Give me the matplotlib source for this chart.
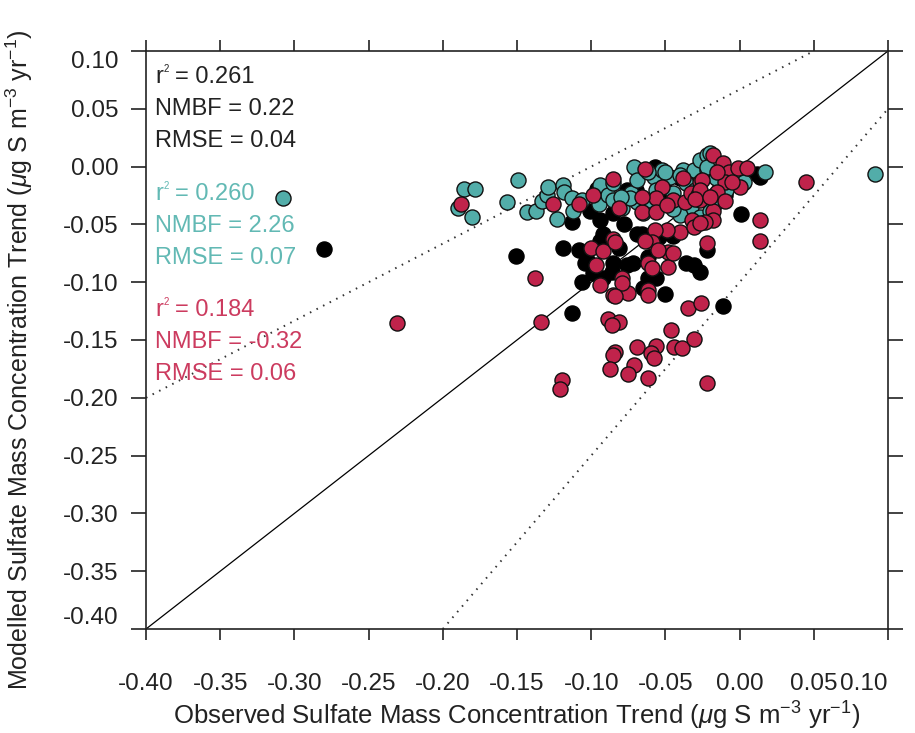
import matplotlib
matplotlib.use("Agg")
import matplotlib.pyplot as plt
import matplotlib.transforms as mtransforms
import numpy as np

plt.rcParams['font.family'] = ['Liberation Sans', 'DejaVu Sans']
plt.rcParams['mathtext.fontset'] = 'custom'
plt.rcParams['mathtext.rm'] = 'Liberation Sans'
plt.rcParams['mathtext.it'] = 'Liberation Sans:italic'
plt.rcParams['mathtext.bf'] = 'Liberation Sans:bold'
plt.rcParams['axes.unicode_minus'] = False

# ---------------- data ----------------
black_x = [-0.280, -0.151, -0.113, -0.119, -0.011, 0.001, 0.014, 0.012, -0.050, -0.108,
           -0.104, -0.106, -0.094, -0.092, -0.085, -0.086, -0.092, -0.099, -0.076, -0.072,
           -0.066, -0.062, -0.062, -0.056, -0.065, -0.036, -0.031, -0.027, -0.022, -0.113,
           -0.103, -0.094, -0.101, -0.096, -0.076, -0.069, -0.081, -0.057, -0.054, -0.060,
           -0.040, -0.020, -0.050, -0.060, -0.030, -0.070, -0.015, -0.035, -0.025, -0.045,
           -0.010, -0.085, -0.078]
black_y = [-0.071, -0.077, -0.127, -0.070, -0.121, -0.041, -0.009, -0.006, -0.110, -0.072,
           -0.083, -0.100, -0.064, -0.058, -0.083, -0.091, -0.096, -0.092, -0.085, -0.083,
           -0.058, -0.078, -0.096, -0.096, -0.105, -0.083, -0.085, -0.091, -0.072, -0.048,
           -0.081, -0.046, -0.038, -0.019, -0.020, -0.058, -0.070, 0.000, -0.061, -0.005,
           -0.010, -0.030, -0.020, -0.035, -0.050, -0.020, -0.005, -0.015, -0.045, -0.060,
           -0.025, -0.040, -0.050]

teal_x = [-0.308, 0.091, -0.186, -0.178, -0.190, -0.180, -0.149, -0.157, -0.143, -0.137,
          -0.133, -0.130, -0.129, -0.119, -0.118, -0.113, -0.123, -0.112, -0.106, -0.094,
          -0.095, -0.089, -0.085, -0.079, -0.071, -0.073, -0.069, -0.085, -0.069, -0.062,
          -0.058, -0.052, -0.047, -0.045, -0.038, -0.031, -0.027, -0.022, -0.036, -0.040,
          -0.033, -0.027, -0.018, -0.013, -0.004, 0.002, 0.017, -0.074, -0.080, -0.062,
          -0.050, -0.040, -0.022, -0.016, -0.009, -0.040, -0.045, -0.020, -0.016, -0.020,
          -0.022, 0.003, -0.056, -0.030, -0.065]
teal_y = [-0.027, -0.006, -0.019, -0.019, -0.036, -0.044, -0.012, -0.031, -0.039, -0.038,
          -0.030, -0.025, -0.018, -0.016, -0.022, -0.027, -0.045, -0.038, -0.029, -0.016,
          -0.032, -0.025, -0.029, -0.036, 0.000, -0.023, -0.031, -0.014, -0.012, -0.029,
          -0.009, -0.003, -0.009, -0.023, -0.003, -0.003, 0.006, 0.010, -0.014, -0.039,
          -0.035, -0.044, -0.035, -0.018, -0.006, -0.014, -0.005, -0.027, -0.026, -0.005,
          -0.005, -0.007, -0.003, -0.010, -0.020, -0.042, -0.037, -0.038, -0.031, 0.012,
          0.000, -0.013, -0.020, -0.020, -0.040]

red_x = [-0.231, -0.188, -0.138, -0.134, -0.126, -0.108, -0.099, -0.085, -0.081, -0.100,
         -0.092, -0.097, -0.085, -0.094, -0.079, -0.085, -0.075, -0.064, -0.018, -0.011,
         -0.007, -0.001, 0.005, -0.010, 0.000, -0.027, -0.015, -0.038, -0.052, -0.056,
         -0.045, -0.037, -0.033, -0.028, -0.027, -0.018, -0.018, -0.023, -0.032, -0.040,
         -0.031, -0.027, -0.049, -0.057, -0.066, -0.056, -0.049, -0.025, -0.027, -0.066,
         0.014, 0.014, -0.022, -0.059, -0.048, -0.055, -0.062, -0.059, -0.048, -0.045,
         -0.062, -0.062, -0.084, -0.079, -0.084, 0.045, -0.015, -0.005, -0.030, -0.020,
         -0.010, -0.064, -0.035, -0.026, -0.089, -0.081, -0.086, -0.046, -0.084, -0.085,
         -0.069, -0.056, -0.060, -0.058, -0.044, -0.039, -0.031, -0.071, -0.075, -0.087,
         -0.062, -0.022, -0.120, -0.121]
red_y = [-0.135, -0.032, -0.096, -0.134, -0.032, -0.032, -0.025, -0.011, -0.036, -0.070,
         -0.073, -0.085, -0.063, -0.102, -0.096, -0.111, -0.109, -0.002, 0.010, 0.003,
         -0.005, -0.001, -0.001, -0.013, -0.018, -0.013, -0.022, -0.010, -0.018, -0.027,
         -0.029, -0.031, -0.023, -0.025, -0.029, -0.038, -0.046, -0.048, -0.046, -0.057,
         -0.052, -0.049, -0.055, -0.055, -0.039, -0.039, -0.033, -0.012, -0.020, -0.026,
         -0.046, -0.064, -0.066, -0.065, -0.074, -0.072, -0.083, -0.088, -0.087, -0.075,
         -0.107, -0.111, -0.065, -0.101, -0.112, -0.013, -0.005, -0.013, -0.028, -0.026,
         -0.030, -0.064, -0.122, -0.118, -0.132, -0.134, -0.137, -0.141, -0.160, -0.163,
         -0.156, -0.155, -0.161, -0.166, -0.156, -0.157, -0.149, -0.172, -0.179, -0.175,
         -0.183, -0.187, -0.185, -0.192]

# reference lines (1:1 and factor lines)
one_x = [-0.40, 0.10]
one_y = [-0.40, 0.10]
upper_x = [-0.40, 0.05]
upper_y = [-0.20, 0.10]
lower_x = [-0.20, 0.10]
lower_y = [-0.40, 0.05]

ticks = [-0.40, -0.35, -0.30, -0.25, -0.20, -0.15, -0.10, -0.05, 0.00, 0.05, 0.10]
tick_labels = ["%.2f" % t for t in ticks]

# statistics: (r2, NMBF, RMSE)
stats_black = ["0.261", "0.22", "0.04"]
stats_teal = ["0.260", "2.26", "0.07"]
stats_red = ["0.184", "-0.32", "0.06"]

# ---------------- plot ----------------
teal = '#52ADA9'
red = '#C0234B'
teal_txt = '#62B9B4'
red_txt = '#CC3B5F'
dark = '#222222'

fig = plt.figure(figsize=(9.15, 7.33), dpi=100)
ax = fig.add_axes([146/915, 1-629/733, 742/915, 578/733])

ax.plot(one_x, one_y, color='black', lw=0.9, zorder=1)
ax.plot(upper_x, upper_y, color='#333333', lw=1.4, ls=(0, (0.8, 3.0)), zorder=1)
ax.plot(lower_x, lower_y, color='#333333', lw=1.4, ls=(0, (0.8, 3.0)), zorder=1)

ms = 118
ax.scatter(black_x, black_y, s=ms, c='black', edgecolors='black', linewidths=1.0, zorder=2)
ax.scatter(teal_x, teal_y, s=ms, c=teal, edgecolors='#111111', linewidths=1.0, zorder=3)
ax.scatter(red_x, red_y, s=ms, c=red, edgecolors='#111111', linewidths=1.0, zorder=4)

ax.set_xlim(-0.40, 0.10)
ax.set_ylim(-0.40, 0.10)
ax.set_xticks(ticks)
ax.set_yticks(ticks)
ax.set_xticklabels(tick_labels)
ax.set_yticklabels(tick_labels)

for sp in ax.spines.values():
    sp.set_linewidth(1.2)
    sp.set_color(dark)

ax.tick_params(axis='x', which='both', direction='out', length=8, width=1.2, color=dark,
               top=True, labeltop=False, pad=24, labelsize=17.5, labelcolor=dark)
ax.tick_params(axis='y', which='both', direction='out', length=11, width=1.2, color=dark,
               right=True, labelright=False, pad=9, labelsize=17.5, labelcolor=dark)

# nudge edge labels inward like the original
xl = ax.get_xticklabels()
xl[-1].set_horizontalalignment('right')
yl = ax.get_yticklabels()
yl[-1].set_verticalalignment('top')
yl[0].set_verticalalignment('bottom')

ax.set_xlabel('Observed Sulfate Mass Concentration Trend ($\\mu$g S m$^{-3}$ yr$^{-1}$)',
              fontsize=18.5, color=dark, labelpad=3)
ax.set_ylabel('Modelled Sulfate Mass Concentration Trend ($\\mu$g S m$^{-3}$ yr$^{-1}$)',
              fontsize=18, color=dark)
ax.yaxis.set_label_coords(-0.150, 0.465)

x0 = 0.012
step = 32/578
fs = 17
for vals, col, ystart in [(stats_black, dark, (629-77)/578),
                          (stats_teal, teal_txt, (629-194)/578),
                          (stats_red, red_txt, (629-310)/578)]:
    y = ystart
    # r^2 line with a tiny superscript 2
    ax.text(x0, y, "r", transform=ax.transAxes, fontsize=fs, color=col,
            ha='left', va='center', zorder=5)
    t2 = mtransforms.offset_copy(ax.transAxes, fig=fig, x=6.2, y=5.5, units='points')
    ax.text(x0, y, "2", transform=t2, fontsize=7, color=col,
            ha='left', va='center', zorder=5)
    t3 = mtransforms.offset_copy(ax.transAxes, fig=fig, x=14.5, y=0, units='points')
    ax.text(x0, y, "= " + vals[0], transform=t3, fontsize=fs, color=col,
            ha='left', va='center', zorder=5)
    ax.text(x0, y - step, "NMBF = " + vals[1], transform=ax.transAxes, fontsize=fs,
            color=col, ha='left', va='center', zorder=5)
    ax.text(x0, y - 2*step, "RMSE = " + vals[2], transform=ax.transAxes, fontsize=fs,
            color=col, ha='left', va='center', zorder=5)

fig.savefig('out.png', dpi=100)
